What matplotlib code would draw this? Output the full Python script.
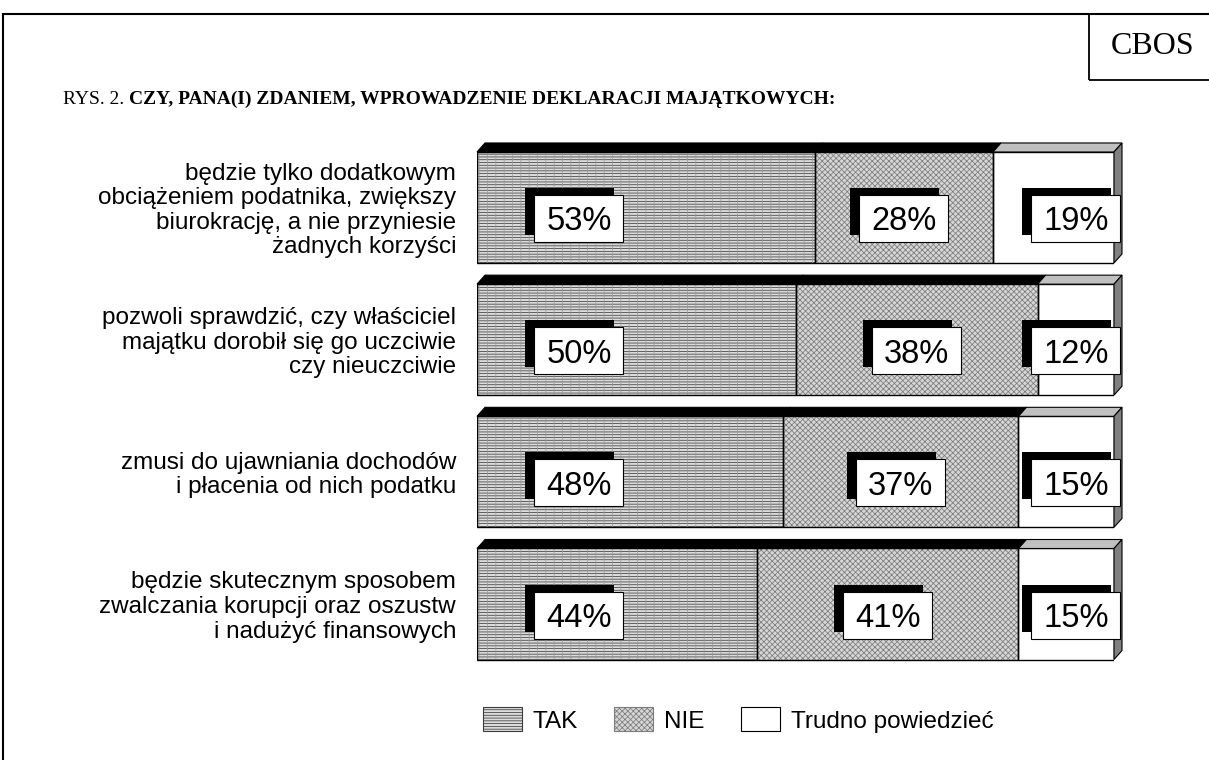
import matplotlib
matplotlib.use("Agg")
import matplotlib.pyplot as plt
from matplotlib.patches import Rectangle, Polygon, Patch
from matplotlib.transforms import IdentityTransform
import numpy as np

# ---------------- data ----------------
categories = [
    "będzie tylko dodatkowym\nobciążeniem podatnika, zwiększy\nbiurokrację, a nie przyniesie\nżadnych korzyści",
    "pozwoli sprawdzić, czy właściciel\nmajątku dorobił się go uczciwie\nczy nieuczciwie",
    "zmusi do ujawniania dochodów\ni płacenia od nich podatku",
    "będzie skutecznym sposobem\nzwalczania korupcji oraz oszustw\ni nadużyć finansowych",
]
tak = [53, 50, 48, 44]
nie = [28, 38, 37, 41]
trudno = [19, 12, 15, 15]
series_names = ["TAK", "NIE", "Trudno powiedzieć"]
title_prefix = "RYS. 2. "
title_main = "CZY, PANA(I) ZDANIEM, WPROWADZENIE DEKLARACJI MAJĄTKOWYCH:"
logo = "CBOS"

# ---------------- style ----------------
W, H = 1209, 760
SANS = ["Liberation Sans", "DejaVu Sans"]
SERIF = ["Liberation Serif", "DejaVu Serif"]
plt.rcParams["font.family"] = SANS
plt.rcParams["hatch.linewidth"] = 0.55

fig = plt.figure(figsize=(W / 100, H / 100), dpi=100)
fig.patch.set_facecolor("white")

# axes: x 0..100 -> px 477..1114 ; bars centred at 207.5 .. 604 (image y)
ax_left, ax_right = 477, 1114
y_top_img, y_bot_img = 141.4, 670.1
ax = fig.add_axes([ax_left / W, 1 - y_bot_img / H,
                   (ax_right - ax_left) / W, (y_bot_img - y_top_img) / H])
ax.set_xlim(0, 100)
ax.set_ylim(3.5, -0.5)
ax.axis("off")

ypos = np.arange(len(categories))
bar_h = 0.84
series = [np.array(tak), np.array(nie), np.array(trudno)]
face = ["#dcdcdc", "#d6d6d6", "#ffffff"]
hatches = ["------", "xxxxxx", None]
hatch_col = ["#3c3c3c", "#7c7c7c", "#000000"]
top_col = ["#000000", "#000000", "#c0c0c0"]

lefts = np.zeros(len(categories))
for s, vals in enumerate(series):
    ax.barh(ypos, vals, left=lefts, height=bar_h, color=face[s],
            edgecolor=hatch_col[s], linewidth=0, hatch=hatches[s], zorder=2)
    if s == 0:
        # faint vertical texture of the first pattern
        ax.barh(ypos, vals, left=lefts, height=bar_h, fill=False,
                edgecolor="#9a9a9a", linewidth=0, hatch="||", zorder=2.5)
    ax.barh(ypos, vals, left=lefts, height=bar_h, fill=False,
            edgecolor="black", linewidth=1.0, zorder=3)
    lefts = lefts + vals

# ---------------- 3-D top and side faces ----------------
dx, dy = 8, 9
ident = IdentityTransform()
lefts = np.zeros(len(categories))
for s, vals in enumerate(series):
    for i in range(len(categories)):
        x0, x1 = lefts[i], lefts[i] + vals[i]
        X0, Yt = ax.transData.transform((x0, i - bar_h / 2))
        X1, _ = ax.transData.transform((x1, i - bar_h / 2))
        poly = Polygon([(X0, Yt), (X1, Yt), (X1 + dx, Yt + dy), (X0 + dx, Yt + dy)],
                       closed=True, facecolor=top_col[s], edgecolor="black",
                       linewidth=0.8, transform=ident, zorder=4)
        fig.add_artist(poly)
        if s == len(series) - 1:
            _, Yb = ax.transData.transform((x1, i + bar_h / 2))
            side = Polygon([(X1, Yt), (X1 + dx, Yt + dy), (X1 + dx, Yb + dy), (X1, Yb)],
                           closed=True, facecolor="#808080", edgecolor="black",
                           linewidth=0.8, transform=ident, zorder=4)
            fig.add_artist(side)
    lefts = lefts + vals

# ---------------- value labels (boxes with shadow) ----------------
BOX_W, BOX_H = 89, 47
SH_DX, SH_DY = -9, 7
LABEL_FIRST_X = 16   # x position (in % units) for first-series labels
LABEL_LAST_X = 94    # x position (in % units) for last-series labels
lefts = np.zeros(len(categories))
for s, vals in enumerate(series):
    for i in range(len(categories)):
        if s == 0:
            lx = LABEL_FIRST_X
        elif s == len(series) - 1:
            lx = LABEL_LAST_X
        else:
            lx = lefts[i] + vals[i] / 2
        X, Y = ax.transData.transform((lx, i))
        Y -= 11
        fig.add_artist(Rectangle((X - BOX_W / 2 + SH_DX, Y - BOX_H / 2 + SH_DY), BOX_W, BOX_H,
                                 facecolor="black", edgecolor="black", linewidth=0,
                                 transform=ident, zorder=5))
        fig.add_artist(Rectangle((X - BOX_W / 2, Y - BOX_H / 2), BOX_W, BOX_H,
                                 facecolor="white", edgecolor="black", linewidth=0.8,
                                 transform=ident, zorder=6))
        fig.text(X / W, Y / H, f"{vals[i]}%", ha="center", va="center_baseline",
                 fontsize=23.5, color="black", zorder=7)
    lefts = lefts + vals

# ---------------- category labels ----------------
for i, cat in enumerate(categories):
    X, Y = ax.transData.transform((0, i))
    fig.text((X - 21) / W, (Y - 3) / H, cat, ha="right", va="center", fontsize=17.5,
             linespacing=1.15, color="black")

# ---------------- legend ----------------
handles = [
    Patch(facecolor=face[0], edgecolor=hatch_col[0], hatch=hatches[0], linewidth=0.8),
    Patch(facecolor=face[1], edgecolor=hatch_col[1], hatch=hatches[1], linewidth=0.8),
    Patch(facecolor="white", edgecolor="black", linewidth=0.8),
]
fig.legend(handles, series_names, loc="center", bbox_to_anchor=(738 / W, 1 - 720 / H),
           ncol=3, frameon=False, fontsize=17.5, handlelength=1.6, handleheight=1.14,
           handletextpad=0.45, columnspacing=1.5)

# ---------------- frame, logo, title ----------------
fig.add_artist(Rectangle((3, -30), 1300, H - 14 + 30, fill=False, edgecolor="black",
                         linewidth=1.5, transform=ident, zorder=10))
fig.add_artist(Rectangle((1089, H - 80), 300, 66, fill=False, edgecolor="black",
                         linewidth=1.3, transform=ident, zorder=10))
fig.text(1153 / W, 1 - 46 / H, logo, ha="center", va="center", fontsize=23,
         family=SERIF)

renderer = fig.canvas.get_renderer()
t1 = fig.text(63 / W, 1 - 99 / H, title_prefix, ha="left", va="center", fontsize=14,
              family=SERIF)
bb = t1.get_window_extent(renderer=renderer)
fig.text(bb.x1 / W, 1 - 99 / H, title_main, ha="left", va="center", fontsize=14,
         family=SERIF, fontweight="bold")

fig.savefig("out.png", dpi=100)
